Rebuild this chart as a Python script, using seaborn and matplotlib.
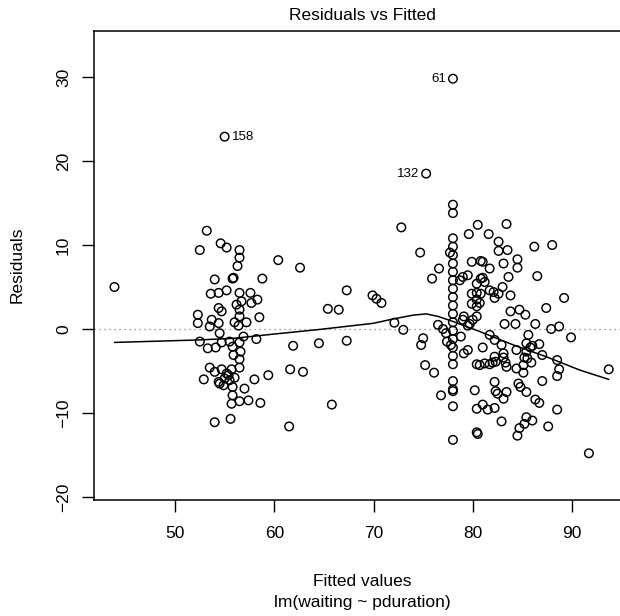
import matplotlib
matplotlib.use("Agg")
import matplotlib.pyplot as plt
import seaborn as sns
import numpy as np

# short previous-eruption group (fitted ~52-60)
short_fit = [43.9, 53.2, 52.5, 54.6, 55.2, 56.5, 56.5, 56.3, 54.0, 55.8, 55.9, 58.8,
             53.6, 54.4, 55.2, 56.5, 57.6, 56.7, 56.2, 57.7, 58.3, 54.4, 54.7, 56.5,
             52.3, 52.3, 53.7, 54.4, 53.5, 56.0, 56.5, 57.2, 58.5, 54.5, 56.4, 56.9,
             52.5, 53.3, 54.1, 54.7, 55.5, 55.8, 56.5, 58.2, 56.6, 55.9, 56.5, 56.5,
             53.5, 54.0, 54.7, 55.2, 55.7, 56.0, 55.0, 55.5, 54.5, 54.9, 54.4, 55.4,
             52.9, 55.8, 57.0, 58.0, 59.4, 55.8, 55.7, 56.5, 57.4, 58.6, 54.0, 55.6,
             55.0]
short_res = [5.0, 11.7, 9.4, 10.2, 9.7, 9.4, 8.5, 7.5, 5.9, 6.0, 6.1, 6.0,
             4.2, 4.3, 4.6, 4.3, 4.3, 3.3, 2.9, 3.1, 3.5, 2.5, 2.1, 2.3,
             1.7, 0.7, 1.1, 0.7, 0.3, 0.8, 1.5, 0.8, 1.4, -0.5, 0.4, -0.9,
             -1.5, -2.3, -2.2, -1.6, -1.5, -2.1, -1.6, -1.2, -2.7, -3.1, -3.6, -4.6,
             -4.6, -5.1, -4.8, -5.3, -4.8, -5.8, -5.9, -6.1, -6.5, -6.7, -6.3, -5.5,
             -6.0, -6.9, -7.1, -6.0, -5.5, -7.9, -8.9, -8.6, -8.5, -8.8, -11.1, -10.7,
             22.9]

# sparse middle range
mid_fit = [60.4, 62.6, 67.3, 65.4, 66.5, 69.9, 70.3, 70.8, 72.1, 73.0, 61.9, 64.5,
           67.3, 61.6, 62.9, 65.8, 61.5, 72.8, 74.7, 75.3]
mid_res = [8.2, 7.3, 4.6, 2.4, 2.3, 4.0, 3.6, 3.1, 0.75, -0.1, -2.0, -1.7,
           -1.4, -4.8, -5.1, -9.0, -11.6, 12.1, 9.1, 18.5]

# column of identical fitted values
col_fit = [78.0] * 24
col_res = [29.8, 14.8, 13.8, 10.8, 9.8, 8.8, 7.8, 6.8, 5.8, 4.8, 3.8, 2.8, 1.8,
           0.8, -0.2, -1.2, -2.2, -3.2, -4.2, -6.2, -7.2, -7.4, -9.2, -13.2]

# long previous-eruption group (fitted ~74-94)
long_fit = [76.6, 75.9, 77.7, 75.0, 74.8, 75.2, 76.1, 76.8, 76.5, 77.0, 77.3, 77.4,
            77.8, 78.8, 78.7, 79.5, 79.0, 79.0, 79.5, 79.7, 79.1, 80.0, 80.4, 79.9,
            80.4, 80.4, 80.7, 79.9, 80.4, 80.8, 79.6, 80.5, 79.9, 80.8, 81.0, 80.4,
            80.8, 81.0, 81.2, 81.7, 81.6, 82.6, 82.6, 83.4, 83.5, 83.1, 81.7, 82.1,
            82.6, 83.0, 82.2, 83.8, 83.6, 84.5, 84.5, 86.2, 88.0, 86.5, 89.2, 87.4,
            83.8, 84.7, 85.3, 83.2, 84.3, 86.3, 87.9, 88.7, 89.9, 93.7, 81.7, 82.2,
            81.0, 82.9, 83.1, 82.2, 82.3, 82.0, 83.4, 80.7, 80.4, 81.2, 81.7, 79.1,
            79.5, 85.6, 85.4, 86.0, 85.8, 86.7, 84.4, 85.4, 87.0, 85.2, 85.5, 85.9,
            85.1, 84.4, 85.1, 88.5, 88.7, 88.5, 87.0, 84.6, 84.8, 85.4, 82.2, 82.3,
            82.5, 83.4, 83.1, 80.2, 81.0, 80.4, 81.5, 82.2, 86.3, 86.7, 88.5, 82.9,
            85.4, 85.2, 86.0, 84.7, 84.5, 87.6, 80.4, 80.5, 91.7, 83.1, 83.3]
long_res = [7.2, 6.0, 9.1, -1.1, -1.9, -4.3, -5.2, -7.9, 0.5, 0.0, -0.5, -1.5,
            -1.9, -0.9, 5.8, 6.4, 6.2, 1.1, 0.4, 0.6, 1.5, 1.1, 1.5, 3.0,
            2.7, 3.5, 3.1, 4.2, 4.3, 4.2, 11.3, 12.4, 8.0, 8.1, 8.0, 5.4,
            6.0, 6.1, 5.6, 7.2, 11.3, 10.4, 9.3, 12.5, 9.4, 7.8, 4.6, 4.4,
            4.2, 5.0, 3.7, 4.0, 6.2, 8.3, 7.3, 9.8, 10.0, 6.3, 3.7, 2.5,
            2.1, 2.3, 1.7, 0.6, 0.6, 0.6, 0.0, 0.3, -1.0, -4.8, -0.7, -1.3,
            -2.2, -1.9, -2.9, -3.3, -3.9, -4.0, -4.5, -4.3, -4.2, -4.1, -4.2, -2.9,
            -2.5, -0.7, -1.7, -2.0, -2.2, -1.8, -2.5, -2.7, -3.1, -3.4, -3.5, -4.0,
            -4.3, -4.7, -5.2, -3.7, -4.8, -5.6, -6.2, -6.5, -6.9, -7.5, -6.3, -7.4,
            -7.7, -7.5, -8.3, -7.3, -9.0, -9.5, -9.6, -9.4, -8.4, -8.8, -9.6, -11.0,
            -10.5, -11.3, -10.9, -11.8, -12.7, -11.6, -12.3, -12.5, -14.8, -3.4, -4.0]

# smoother
smooth_fit = [43.9, 52.5, 56.0, 60.0, 64.6, 70.0, 72.0, 74.0, 75.3, 76.5, 78.0,
              80.7, 84.1, 87.4, 90.8, 93.7]
smooth_res = [-1.6, -1.3, -1.1, -0.6, -0.05, 0.68, 1.2, 1.65, 1.8, 1.5, 0.9,
              -0.3, -1.9, -3.3, -4.9, -6.0]

# labelled observations
lab_names = ["61", "158", "132"]
lab_fit = [78.0, 55.0, 75.3]
lab_res = [29.8, 22.9, 18.5]
lab_side = ["left", "right", "left"]

fitted = short_fit + mid_fit + col_fit + long_fit
resid = short_res + mid_res + col_res + long_res

sns.set_style("ticks")
plt.rcParams["font.family"] = ["Liberation Sans", "DejaVu Sans"]
plt.rcParams["text.color"] = "black"
plt.rcParams["xtick.color"] = "black"
plt.rcParams["ytick.color"] = "black"
plt.rcParams["axes.labelcolor"] = "black"

fig = plt.figure(figsize=(6.2, 6.16), dpi=100)
ax = fig.add_axes([94 / 620, 116 / 616, 536 / 620, 469 / 616])

ax.axhline(0, color="gray", linestyle=(0, (1, 3)), linewidth=0.9, zorder=1)
sns.scatterplot(x=fitted, y=resid, ax=ax, marker="o", s=38,
                facecolor="none", edgecolor="black", linewidth=1.05, zorder=3)
sns.lineplot(x=smooth_fit, y=smooth_res, ax=ax, color="black", linewidth=1.1,
             sort=False, estimator=None, zorder=2)

for name, fx, ry, side in zip(lab_names, lab_fit, lab_res, lab_side):
    off = -5 if side == "left" else 5
    ax.annotate(name, (fx, ry), xytext=(off, 0), textcoords="offset points",
                ha="right" if side == "left" else "left", va="center", fontsize=9.5)

ax.set_xlim(41.84, 95.84)
ax.set_ylim(-20.36, 35.48)
ax.set_xticks([50, 60, 70, 80, 90])
ax.set_yticks([-20, -10, 0, 10, 20, 30])
ax.tick_params(axis="both", direction="out", length=8.5, width=1.0, labelsize=12.5,
               color="black", labelcolor="black")
ax.tick_params(axis="x", pad=10)
ax.tick_params(axis="y", pad=8)
for lbl in ax.get_yticklabels():
    lbl.set_rotation(90)
    lbl.set_va("center")
for sp in ax.spines.values():
    sp.set_visible(True)
    sp.set_color("black")
    sp.set_linewidth(1.1)

ax.set_xlabel("")
ax.set_ylabel("")
fig.text(362 / 620, 1 - 15 / 616, "Residuals vs Fitted", ha="center", va="center",
         fontsize=12.5)
fig.text(362 / 620, 1 - 581 / 616, "Fitted values", ha="center", va="center",
         fontsize=12.5)
fig.text(362 / 620, 1 - 603 / 616, "lm(waiting ~ pduration)", ha="center",
         va="center", fontsize=12.5)
fig.text(17 / 620, 1 - 265 / 616, "Residuals", ha="center", va="center",
         rotation=90, fontsize=12.5)

fig.savefig("out.png", dpi=100)
plt.close(fig)
